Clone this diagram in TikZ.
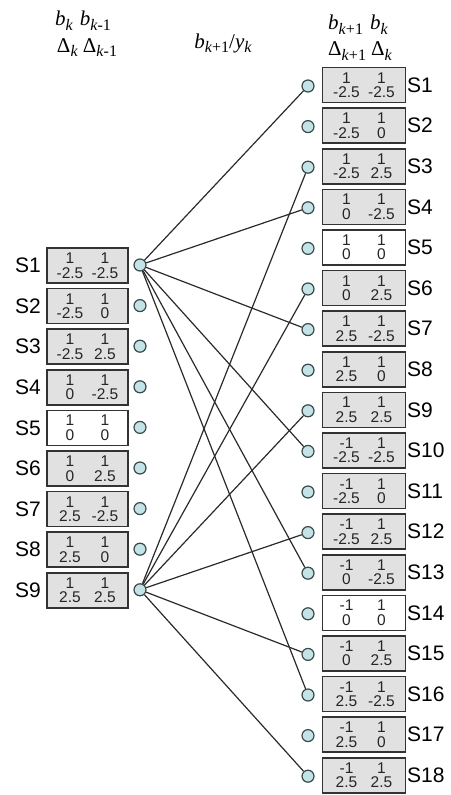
\documentclass[tikz,border=0pt]{standalone}
\usepackage{fontspec}
\setmainfont{Liberation Sans}
\newfontfamily\tnr{Liberation Serif}
\definecolor{boxgray}{HTML}{E1E1E1}
\definecolor{boxline}{HTML}{333333}
\definecolor{dotfill}{HTML}{C3E3E6}
\definecolor{dotline}{HTML}{3A4A4C}
\definecolor{linecol}{HTML}{2A2A2A}
\definecolor{numcol}{HTML}{262626}
\newcommand\cellv[4]{\makebox[35pt]{#1}\makebox[35pt]{#2}\\\makebox[35pt]{#3}\makebox[35pt]{#4}}
\newcommand\hsub[1]{\raisebox{-5pt}{\fontsize{16}{16}\selectfont #1}}
\begin{document}
\begin{tikzpicture}[x=1pt,y=-1pt,
  sbox/.style={draw=boxline, line width=1.6pt, fill=boxgray, minimum width=81pt, minimum height=35pt, inner sep=0pt, align=center, text=numcol, font=\fontsize{15.5}{14.5}\selectfont},
  dot/.style={circle, draw=dotline, line width=1.2pt, fill=dotfill, minimum size=12pt, inner sep=0pt},
  slab/.style={font=\fontsize{21}{21}\selectfont, inner sep=0pt},
  hdr/.style={font=\tnr\fontsize{21}{21}\selectfont, inner sep=0pt, anchor=base},
  link/.style={draw=linecol, line width=1.2pt}]
\useasboundingbox (0,0) rectangle (450,795);
% headers
\node[hdr] (h1) at (83,25) {\textit{b}\hsub{\textit{k}}\hspace{7pt}\textit{b}\hsub{\textit{k}-1}};
\node[hdr] (h2) at (87,52) {Δ\hsub{\textit{k}}\hspace{5pt}Δ\hsub{\textit{k}-1}};
\node[hdr] (h3) at (223,48) {\textit{b}\hsub{\textit{k}+1}/\textit{y}\hsub{\textit{k}}};
\node[hdr] (h4) at (358,29) {\textit{b}\hsub{\textit{k}+1}\hspace{7pt}\textit{b}\hsub{\textit{k}}};
\node[hdr] (h5) at (360,55) {Δ\hsub{\textit{k}+1}\hspace{5pt}Δ\hsub{\textit{k}}};
% left states
\foreach \i/\a/\b/\c/\d/\f in {1/1/1/-2.5/-2.5/boxgray,2/1/1/-2.5/0/boxgray,3/1/1/-2.5/2.5/boxgray,4/1/1/0/-2.5/boxgray,5/1/1/0/0/white,6/1/1/0/2.5/boxgray,7/1/1/2.5/-2.5/boxgray,8/1/1/2.5/0/boxgray,9/1/1/2.5/2.5/boxgray}{
  \node[sbox, fill=\f] (LB\i) at (87.5,{265.5+40.6*(\i-1)}) {\cellv{\a}{\b}{\c}{\d}};
  \node[slab, anchor=east] (LS\i) at (41,{265.5+40.6*(\i-1)}) {S\i};
  \node[dot] (L\i) at (140,{265+40.6*(\i-1)}) {};
}
% right states
\foreach \i/\a/\b/\c/\d/\f in {1/1/1/-2.5/-2.5/boxgray,2/1/1/-2.5/0/boxgray,3/1/1/-2.5/2.5/boxgray,4/1/1/0/-2.5/boxgray,5/1/1/0/0/white,6/1/1/0/2.5/boxgray,7/1/1/2.5/-2.5/boxgray,8/1/1/2.5/0/boxgray,9/1/1/2.5/2.5/boxgray,10/-1/1/-2.5/-2.5/boxgray,11/-1/1/-2.5/0/boxgray,12/-1/1/-2.5/2.5/boxgray,13/-1/1/0/-2.5/boxgray,14/-1/1/0/0/white,15/-1/1/0/2.5/boxgray,16/-1/1/2.5/-2.5/boxgray,17/-1/1/2.5/0/boxgray,18/-1/1/2.5/2.5/boxgray}{
  \node[sbox, fill=\f, minimum width=83pt] (RB\i) at (364,{85+40.6*(\i-1)}) {\cellv{\a}{\b}{\c}{\d}};
  \node[slab, anchor=west] (RS\i) at (407,{85+40.6*(\i-1)}) {S\i};
  \node[dot] (R\i) at (308,{86+40.6*(\i-1)}) {};
}
% transitions
\foreach \j in {1,4,7,10,13,16}{\draw[link] (L1) -- (R\j);}
\foreach \j in {3,6,9,12,15,18}{\draw[link] (L9) -- (R\j);}
\end{tikzpicture}
\end{document}
